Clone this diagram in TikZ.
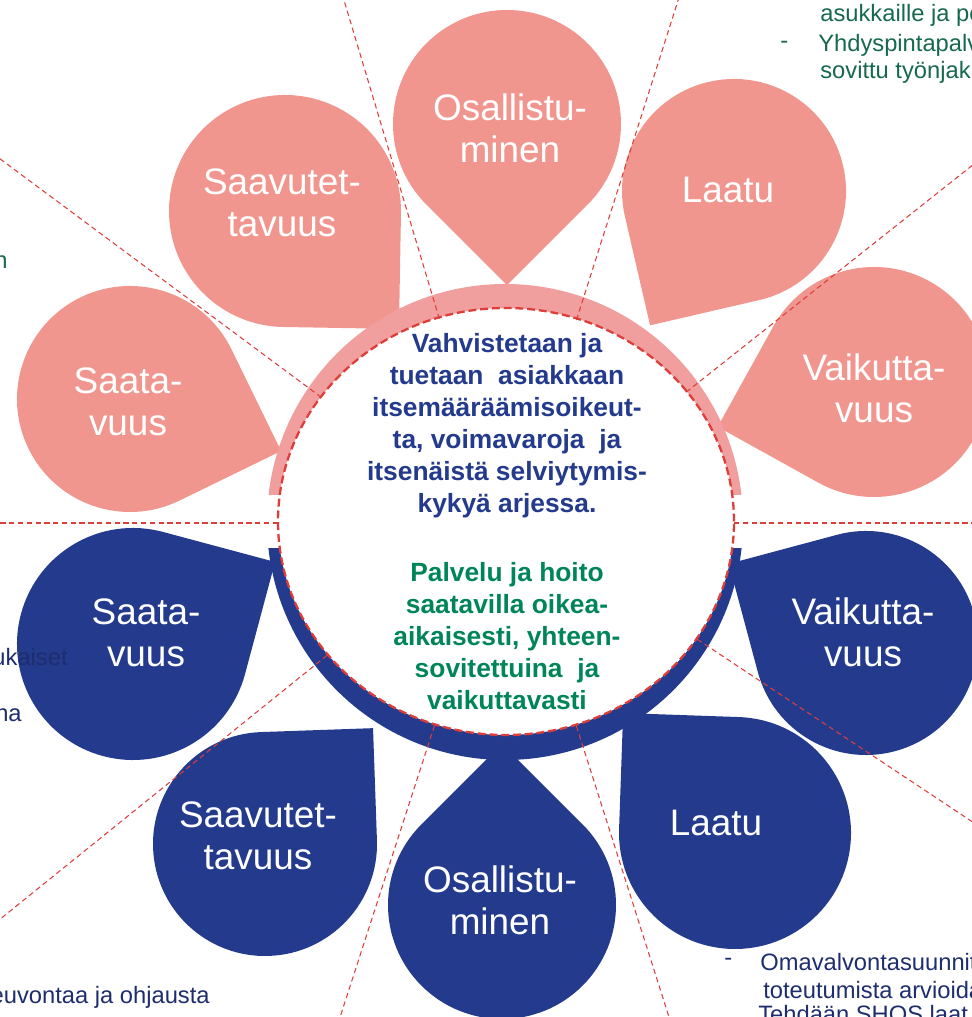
\documentclass[tikz,border=0pt]{standalone}
\usepackage{fontspec}
\setmainfont{Liberation Sans}
\definecolor{petalpink}{RGB}{241,150,142}
\definecolor{ringpink}{RGB}{241,158,158}
\definecolor{petalblue}{RGB}{35,58,141}
\definecolor{dashred}{RGB}{221,62,58}
\definecolor{aimgreen}{RGB}{0,133,90}
\definecolor{notegreen}{RGB}{22,105,75}
\definecolor{notenavy}{RGB}{30,45,110}
\tikzset{
  petaltext/.style={text=white,align=center,font=\fontsize{21}{24}\selectfont},
  aimtext/.style={align=center,inner sep=0pt,font=\bfseries\fontsize{15}{18.2}\selectfont},
  notetext/.style={anchor=west,inner sep=0pt,font=\fontsize{13.5}{15}\selectfont},
  raydash/.style={dashred,line width=0.6pt,dash pattern=on 3pt off 2pt},
  rimdash/.style={dashred,line width=1.3pt,dash pattern=on 4.5pt off 2.2pt}
}
% teardrop: centre, radius, tip angle, style
\newcommand{\petal}[4]{%
  \fill[#4,shift={(#1)}] (#3+45:#2) arc[start angle=#3+45,end angle=#3+315,radius=#2]
    -- (#3:1.4142*#2) -- cycle;}

\begin{document}
\begin{tikzpicture}[x=0.02cm,y=0.02cm]
  \useasboundingbox (0,0) rectangle (972,1017);
  \clip (0,0) rectangle (972,1017);
  % petals
  \foreach \cx/\cy/\r/\t/\sty in {
      507/893/114/270/petalpink, 734/826/112/238/petalpink, 874/635/115/196/petalpink,
      285/806/116/314/petalpink, 130/618/113/341/petalpink,
      133/373/116/30/petalblue, 265/173/112/47/petalblue, 502/112/114/90/petalblue,
      735/184/116/133/petalblue, 866/374/112/150/petalblue}
    \petal{\cx,\cy}{\r}{\t}{\sty};
  % ring
  \fill[white] (506,495.5) ellipse[x radius=228,y radius=213.5];
  \begin{scope}
    \clip (0,522) rectangle (972,1017);
    \fill[ringpink,even odd rule] (505,495) circle[radius=238]
      (506,495.5) ellipse[x radius=228,y radius=213.5];
  \end{scope}
  \begin{scope}
    \clip (0,0) rectangle (972,468);
    \fill[petalblue,even odd rule] (505,495) circle[radius=238]
      (506,495.5) ellipse[x radius=228,y radius=213.5];
  \end{scope}
  \draw[rimdash] (506,495.5) ellipse[x radius=228,y radius=213.5];
  % rays
  \foreach \a in {0,37.8,72,107,144,180,218.3,251.7,288,327}
    \draw[raydash,shift={(506,494)}] (\a:228 and 213.5) -- (\a:900);
  % petal labels
  \node[petaltext] (osallistuA) at (510,889) {Osallistu-\\minen};
  \node[petaltext] (laatuA) at (728,827) {Laatu};
  \node[petaltext] (vaikuttaA) at (874,629) {Vaikutta-\\vuus};
  \node[petaltext] (saavutetA) at (282,814) {Saavutet-\\tavuus};
  \node[petaltext] (saataA) at (128,615) {Saata-\\vuus};
  \node[petaltext] (saataB) at (146,384) {Saata-\\vuus};
  \node[petaltext] (saavutetB) at (258,181) {Saavutet-\\tavuus};
  \node[petaltext] (osallistuB) at (500,117) {Osallistu-\\minen};
  \node[petaltext] (laatuB) at (716,194) {Laatu};
  \node[petaltext] (vaikuttaB) at (863,385) {Vaikutta-\\vuus};
  % centre text
  \node[aimtext,text=petalblue] (aimA) at (507,591) {Vahvistetaan ja\\
    tuetaan\ \ asiakkaan\\ itsemääräämisoikeut-\\ ta, voimavaroja\ \ ja\\
    itsenäistä selviytymis-\\ kykyä arjessa.};
  \node[aimtext,text=aimgreen] (aimB) at (507,381) {Palvelu ja hoito\\
    saatavilla oikea-\\ aikaisesti, yhteen-\\ sovitettuina\ \ ja\\ vaikuttavasti};
  % cut-off notes at the edges
  \node[notetext,text=notegreen] (noteA) at (820,1002) {asukkaille ja po};
  \node[notetext,text=notegreen] (dashA) at (780,972) {-};
  \node[notetext,text=notegreen] (noteB) at (818,972) {Yhdyspintapalv};
  \node[notetext,text=notegreen] (noteC) at (820,945) {sovittu työnjak};
  \node[notetext,text=notegreen,anchor=east] (noteD) at (8,755) {n};
  \node[notetext,text=notenavy,anchor=east] (noteE) at (68,360) {ukaiset};
  \node[notetext,text=notenavy,anchor=east] (noteF) at (22,302) {na};
  \node[notetext,text=notenavy,anchor=east] (noteG) at (210,20) {euvontaa ja ohjausta};
  \node[notetext,text=notenavy] (dashB) at (724,55) {-};
  \node[notetext,text=notenavy] (noteH) at (760,55) {Omavalvontasuunnit};
  \node[notetext,text=notenavy] (noteI) at (763,27) {toteutumista arvioida};
  \node[notetext,text=notenavy] (noteJ) at (758,1) {Tehdään SHQS laat};
\end{tikzpicture}
\end{document}
